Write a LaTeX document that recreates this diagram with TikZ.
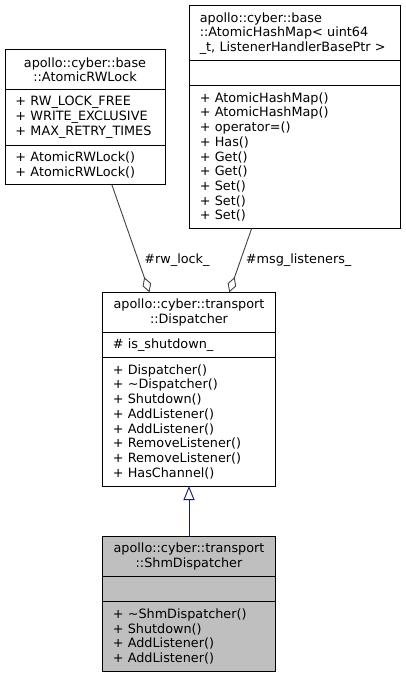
\documentclass[tikz,border=0pt]{standalone}
\usepackage{fontspec}
\setmainfont{DejaVu Sans}
\usetikzlibrary{arrows.meta}
\definecolor{edgegray}{HTML}{404040}
\definecolor{navyblue}{HTML}{191970}
\definecolor{boxgray}{HTML}{BFBFBF}

\begin{document}
\begin{tikzpicture}[x=1pt, y=-1pt,
    every node/.style={font=\fontsize{12.8}{14.7}\selectfont},
    part/.style={draw=black, line width=1pt, fill=white, anchor=north west,
      outer sep=0pt, inner xsep=10.5pt, inner ysep=2pt, align=left},
    title/.style={part, align=center},
    shaded/.style={fill=boxgray},
    agg/.style={draw=edgegray, line width=0.9pt,
      -{Diamond[open, length=16pt, width=9pt]}},
    inherit/.style={draw=navyblue, line width=0.9pt,
      -{Triangle[open, length=14pt, width=11pt]}}]
    \useasboundingbox (0,0) rectangle (405,677);

    \node[title, text width=139pt, minimum height=39.3pt] (lockT) at (5,50)
      {apollo::cyber::base\\::AtomicRWLock};
    \node[part, text width=139pt, minimum height=55.7pt] (lockA) at (lockT.south west)
      {+ RW\_LOCK\_FREE\\+ WRITE\_EXCLUSIVE\\+ MAX\_RETRY\_TIMES};
    \node[part, text width=139pt, minimum height=39.3pt] (lockM) at (lockA.south west)
      {+ AtomicRWLock()\\+ AtomicRWLock()};

    \node[part, text width=189.7pt, minimum height=55pt] (mapT) at (189.3,6)
      {apollo::cyber::base\\::AtomicHashMap< uint64\\\_t, ListenerHandlerBasePtr >};
    \node[part, text width=189.7pt, minimum height=24.7pt] (mapA) at (mapT.south west) {};
    \node[part, text width=189.7pt, minimum height=142.6pt] (mapM) at (mapA.south west)
      {+ AtomicHashMap()\\+ AtomicHashMap()\\+ operator=()\\+ Has()\\+ Get()\\+ Get()\\+ Set()\\+ Set()\\+ Set()};

    \node[title, text width=152.4pt, minimum height=40.4pt] (dispT) at (102.3,292.3)
      {apollo::cyber::transport\\::Dispatcher};
    \node[part, text width=152.4pt, minimum height=24.6pt] (dispA) at (dispT.south west)
      {\# is\_shutdown\_};
    \node[part, text width=152.4pt, minimum height=128.7pt] (dispM) at (dispA.south west)
      {+ Dispatcher()\\+ \textasciitilde Dispatcher()\\+ Shutdown()\\+ AddListener()\\+ AddListener()\\+ RemoveListener()\\+ RemoveListener()\\+ HasChannel()};

    \node[title, shaded, text width=152.4pt, minimum height=39.8pt] (shmT) at (102.3,536.7)
      {apollo::cyber::transport\\::ShmDispatcher};
    \node[part, shaded, text width=152.4pt, minimum height=24.8pt] (shmA) at (shmT.south west) {};
    \node[part, shaded, text width=152.4pt, minimum height=70.4pt] (shmM) at (shmA.south west)
      {+ \textasciitilde ShmDispatcher()\\+ Shutdown()\\+ AddListener()\\+ AddListener()};

    \path
      ([xshift=106.7pt]lockM.south west) edge[agg]
        node[pos=0.7, anchor=west, xshift=2.5pt] {\#rw\_lock\_}
        ([xshift=47.2pt]dispT.north west)
      ([xshift=62.4pt]mapM.south west) edge[agg]
        node[pos=0.5, anchor=west, xshift=1.7pt] {\#msg\_listeners\_}
        ([xshift=127pt]dispT.north west)
      (shmT.north) edge[inherit] (dispM.south);
  \end{tikzpicture}
\end{document}
